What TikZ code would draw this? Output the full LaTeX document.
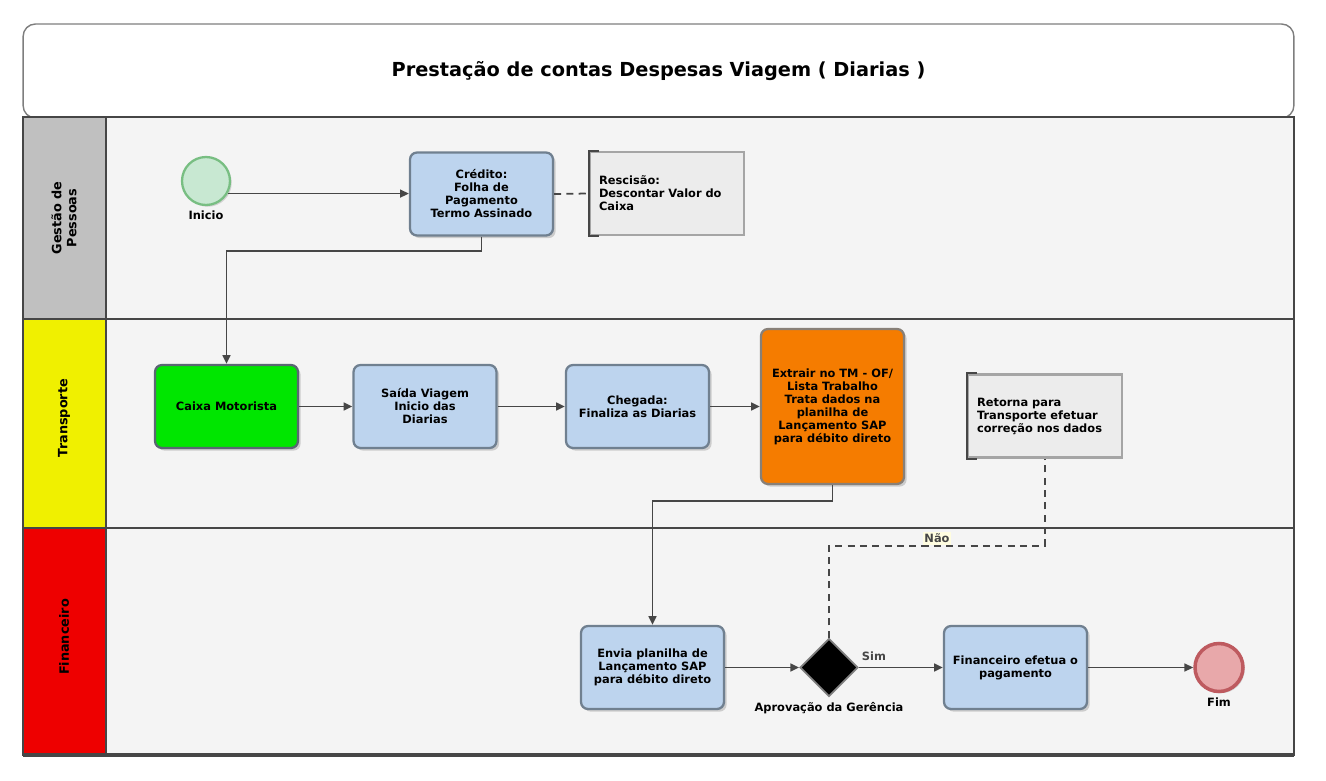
\documentclass[tikz,border=0pt]{standalone}
\usepackage{fontspec}
\setmainfont{DejaVu Sans}
\usetikzlibrary{arrows.meta,positioning,shapes.geometric,shadows}
\definecolor{bodygray}{RGB}{244,244,244}
\definecolor{linegray}{RGB}{70,70,70}
\definecolor{hdgray}{RGB}{192,192,192}
\definecolor{hdyellow}{RGB}{240,240,0}
\definecolor{hdred}{RGB}{238,0,0}
\definecolor{taskblue}{RGB}{189,212,238}
\definecolor{taskedge}{RGB}{112,128,144}
\definecolor{taskgreen}{RGB}{0,230,0}
\definecolor{taskorange}{RGB}{245,124,0}
\definecolor{annfill}{RGB}{236,236,236}
\definecolor{annedge}{RGB}{165,165,165}
\definecolor{startfill}{RGB}{200,232,210}
\definecolor{startedge}{RGB}{120,190,130}
\definecolor{endfill}{RGB}{232,168,170}
\definecolor{endedge}{RGB}{190,90,95}

\begin{document}
\begin{tikzpicture}[x=0.02cm, y=-0.02cm, font=\bfseries\fontsize{6.5}{7.4}\selectfont,
      t/.style={rectangle, rounded corners=4pt, draw=taskedge, line width=1.3pt, fill=taskblue,
                drop shadow={shadow xshift=1.5pt, shadow yshift=-1.5pt, fill=black!35},
                align=center, minimum width=2.86cm, minimum height=1.66cm, inner sep=1pt},
      ann/.style={rectangle, draw=annedge, line width=1.5pt, fill=annfill, align=left,
                  text width=2.72cm, inner xsep=0.18cm, minimum height=1.66cm},
      ev/.style={circle, line width=1.3pt, minimum size=0.96cm,
                 drop shadow={shadow xshift=1pt, shadow yshift=-1pt, fill=black!30}},
      lanetxt/.style={rotate=90, align=center, font=\bfseries\fontsize{7.3}{8.6}\selectfont},
      flow/.style={-{Triangle[length=5pt,width=4.5pt]}, line width=1pt, linegray},
      assoc/.style={dashed, dash pattern=on 4pt off 3pt, line width=1pt, linegray}]
    \useasboundingbox (0,0) rectangle (1326,781);
    \node[rectangle, rounded corners=7pt, draw=linegray!70, line width=0.8pt, fill=white,
          minimum width=25.42cm, minimum height=1.88cm,
          font=\bfseries\fontsize{11}{13}\selectfont] (title) at (658.5,71) {Prestação de contas Despesas Viagem ( Diarias )};
    \fill[bodygray] (23,117) rectangle (1294,755);
    \fill[hdgray] (23,117) rectangle (106,319);
    \fill[hdyellow] (23,319) rectangle (106,528);
    \fill[hdred] (23,528) rectangle (106,755);
    \draw[linegray, line width=1.1pt] (23,117) rectangle (1294,755) (23,319) -- (1294,319) (23,528) -- (1294,528);
    \draw[linegray, line width=1.6pt] (106,117) -- (106,755);
    \draw[linegray, line width=1.8pt] (23,755) -- (1294,755);
    \node[lanetxt] (lgp) at (64,218) {Gestão de\\Pessoas};
    \node[lanetxt] (ltr) at (64,418) {Transporte};
    \node[lanetxt] (lfin) at (64,637) {Financeiro};

    \node[ev, draw=startedge, fill=startfill] (ini) at (206,181) {};
    \node[below=-1pt of ini] (inilbl) {Inicio};
    \node[t] (cred) at (481.5,194) {Crédito:\\Folha de\\Pagamento\\Termo Assinado};
    \node[ann] (resc) at (667,193.5) {Rescisão:\\Descontar Valor do\\Caixa};

    \node[t, fill=taskgreen, draw=taskedge!80!black] (caixa) at (226.5,406.5) {Caixa Motorista};
    \node[t] (saida) at (425,406.5) {Saída Viagem\\Inicio das\\Diarias};
    \node[t] (cheg) at (637.5,406.5) {Chegada:\\Finaliza as Diarias};
    \node[t, fill=taskorange, draw=taskedge!70!brown, minimum height=3.1cm] (extr) at (832.5,406.5) {Extrair no TM - OF/\\Lista Trabalho\\Trata dados na\\planilha de\\Lançamento SAP\\para débito direto};
    \node[ann] (reto) at (1045,416) {Retorna para\\Transporte efetuar\\correção nos dados};

    \node[t] (envia) at (652.5,667.5) {Envia planilha de\\Lançamento SAP\\para débito direto};
    \node[diamond, fill=black, draw=gray, line width=1pt, minimum size=1.16cm, inner sep=0pt] (aprov) at (829,667.5) {};
    \node[below=-0.5pt of aprov] (aprovlbl) {Aprovação da Gerência};
    \node[t] (fin) at (1015.5,667.5) {Financeiro efetua o\\pagamento};
    \node[ev, draw=endedge, fill=endfill, line width=2pt] (fim) at (1219,667.5) {};
    \node[below=-1pt of fim] (fimlbl) {Fim};

    \draw[flow] (ini.-30) -- (ini.-30 -| cred.west);
    \draw[assoc] (cred.east) -- (resc.west);
    \draw[line width=1.2pt, linegray] ([xshift=0.2cm]resc.north west) -- (resc.north west) -- (resc.south west) -- ([xshift=0.2cm]resc.south west);
    \draw[line width=1.2pt, linegray] ([xshift=0.2cm]reto.north west) -- (reto.north west) -- (reto.south west) -- ([xshift=0.2cm]reto.south west);
    \draw[flow] (cred.south) -- ++(0,14) -| (caixa.north);
    \draw[flow] (caixa) -- (saida);
    \draw[flow] (saida) -- (cheg);
    \draw[flow] (cheg) -- (extr);
    \draw[flow] (extr.south) -- ++(0,16) -| (envia.north);
    \draw[flow] (envia) -- (aprov);
    \draw[flow] (aprov) -- node[above, pos=0.18] {Sim} (fin);
    \draw[flow] (fin) -- (fim);
    \draw[assoc] (aprov.north) -- ++(0,-92) -| node[above, pos=0.25, fill=yellow!12, inner sep=1pt] {Não} (reto.south);
  \end{tikzpicture}
\end{document}
